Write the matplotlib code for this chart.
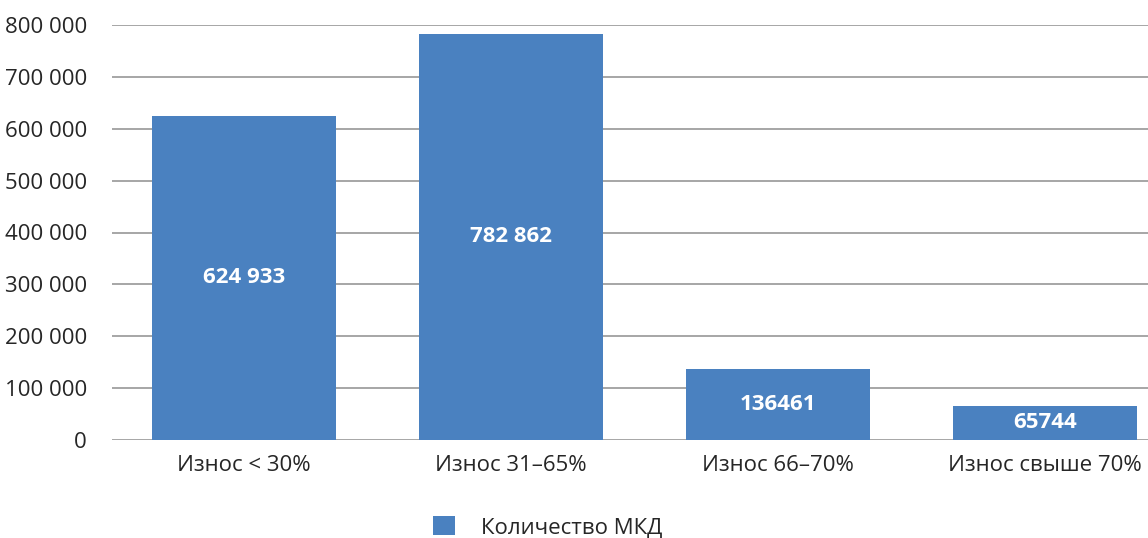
import numpy as np
import matplotlib.pyplot as plt

categories = ['Износ < 30%', 'Износ 31–65%', 'Износ 66–70%', 'Износ свыше 70%']
counts = [624933, 782862, 136461, 65744]
count_labels = ['624 933', '782 862', '136461', '65744']
series_name = 'Количество МКД'

yticks = np.arange(0, 800001, 100000)

plt.rcParams['font.family'] = ['Open Sans', 'DejaVu Sans']

fig = plt.figure(figsize=(11.48, 5.38), dpi=100)
ax = fig.add_axes([112 / 1148, 1 - 440 / 538, 1 - 112 / 1148, (440 - 25) / 538])

x = np.arange(len(categories))
bar_color = '#4a81c0'
ax.bar(x, counts, width=0.69, color=bar_color, zorder=2, label=series_name)

for xi, v, lab in zip(x, counts, count_labels):
    ax.text(xi, v / 2, lab, ha='center', va='center', color='white',
            fontsize=16, fontweight='bold', zorder=3)

ax.set_xlim(-0.494, 3.386)
ax.set_ylim(0, 800000)
ax.set_yticks(yticks)
ax.set_yticklabels([f'{t:,}'.replace(',', ' ') for t in yticks])
ax.set_xticks(x)
ax.set_xticklabels(categories)
ax.tick_params(axis='y', length=0, pad=18, labelsize=16, labelcolor='#262626')
ax.tick_params(axis='x', length=0, pad=11, labelsize=16, labelcolor='#262626')

ax.grid(axis='y', color='#a6a6a6', linewidth=1.4, zorder=1)
ax.set_axisbelow(True)
for s in ['top', 'right', 'left', 'bottom']:
    ax.spines[s].set_visible(False)

fig.legend(loc='center', bbox_to_anchor=(548 / 1148, 1 - 527 / 538),
           frameon=False, fontsize=16, handlelength=0.95, handleheight=0.95,
           handletextpad=1.2, labelcolor='#262626')

fig.savefig('out.png', dpi=100)
